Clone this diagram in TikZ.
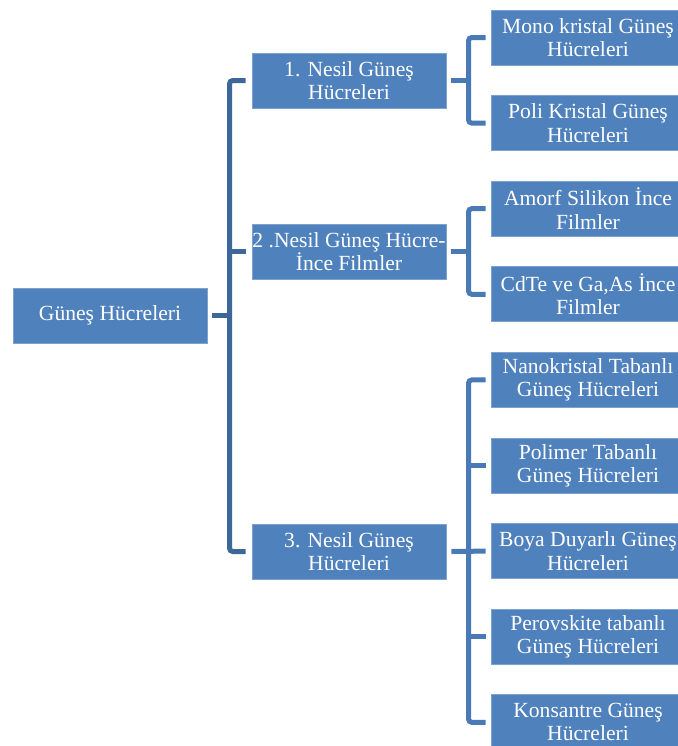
\documentclass[tikz,border=0pt]{standalone}
\usepackage{fontspec}
\setmainfont{Liberation Serif}
\usetikzlibrary{calc}
\definecolor{boxblue}{HTML}{4F81BD}
\definecolor{boxedge}{HTML}{7EA2D0}
\definecolor{trunkblue}{HTML}{3E6799}
\definecolor{branchblue}{HTML}{4A7AB6}
\tikzset{
  catbox/.style={rectangle, fill=boxblue, draw=boxedge, line width=0.6pt,
    minimum width=194*0.75pt, minimum height=55*0.75pt, inner sep=0pt,
    text=white, align=center,
    font=\fontsize{16.2}{17.4}\selectfont},
  trunk/.style={draw=trunkblue, line width=5*0.75pt, rounded corners=2.5pt},
  branch/.style={draw=branchblue, line width=5*0.75pt, rounded corners=2.5pt}
}
\begin{document}
\begin{tikzpicture}[x=0.75pt, y=-0.75pt]
\useasboundingbox (0,0) rectangle (678,746);
\begin{scope}
\clip (0,0) rectangle (678,746);

% root and first level
\node[catbox] (root) at (110,315.5) {Güneş Hücreleri};
\node[catbox] (n1) at (349,80.5) {1. Nesil Güneş\\Hücreleri};
\node[catbox] (n2) at (349,251.5) {2 .Nesil Güneş Hücre-\\İnce Filmler};
\node[catbox] (n3) at (349,551.5) {3. Nesil Güneş\\Hücreleri};

% second level
\node[catbox] (m1) at (588,37.5) {Mono kristal Güneş\\Hücreleri};
\node[catbox] (m2) at (588,123.1) {Poli Kristal Güneş\\Hücreleri};
\node[catbox] (m3) at (588,208.7) {Amorf Silikon İnce\\Filmler};
\node[catbox] (m4) at (588,294.3) {CdTe ve Ga,As İnce\\Filmler};
\node[catbox] (m5) at (588,379.9) {Nanokristal Tabanlı\\Güneş Hücreleri};
\node[catbox] (m6) at (588,465.5) {Polimer Tabanlı\\Güneş Hücreleri};
\node[catbox] (m7) at (588,551.1) {Boya Duyarlı Güneş\\Hücreleri};
\node[catbox] (m8) at (588,636.7) {Perovskite tabanlı\\Güneş Hücreleri};
\node[catbox] (m9) at (588,722.3) {Konsantre Güneş\\Hücreleri};

% spine positions
\coordinate (sp) at (229.5,0);
\coordinate (sb) at (468.5,0);

% main spine
\draw[trunk] ($(n1.west)+(-6,0)$) -- (sp |- n1) -- (sp |- n3) -- ($(n3.west)+(-6,0)$);
\draw[trunk] ($(n2.west)+(-6,0)$) -- (sp |- n2);
\draw[trunk] ($(root.east)+(5,0)$) -- (sp |- root);

% first generation branch
\draw[branch] ($(n1.east)+(5,0)$) -- (sb |- n1);
\draw[branch] ($(m1.west)+(-5,0)$) -- (sb |- m1) -- (sb |- m2) -- ($(m2.west)+(-5,0)$);

% second generation branch
\draw[branch] ($(n2.east)+(5,0)$) -- (sb |- n2);
\draw[branch] ($(m3.west)+(-5,0)$) -- (sb |- m3) -- (sb |- m4) -- ($(m4.west)+(-5,0)$);

% third generation branch
\draw[branch] ($(m5.west)+(-5,0)$) -- (sb |- m5) -- (sb |- m9) -- ($(m9.west)+(-5,0)$);
\draw[branch] ($(m6.west)+(-5,0)$) -- (sb |- m6);
\draw[branch] ($(m8.west)+(-5,0)$) -- (sb |- m8);
\draw[branch] ($(n3.east)+(5,0)$) -- ($(m7.west)+(-5,0)$);
\end{scope}
\end{tikzpicture}
\end{document}
